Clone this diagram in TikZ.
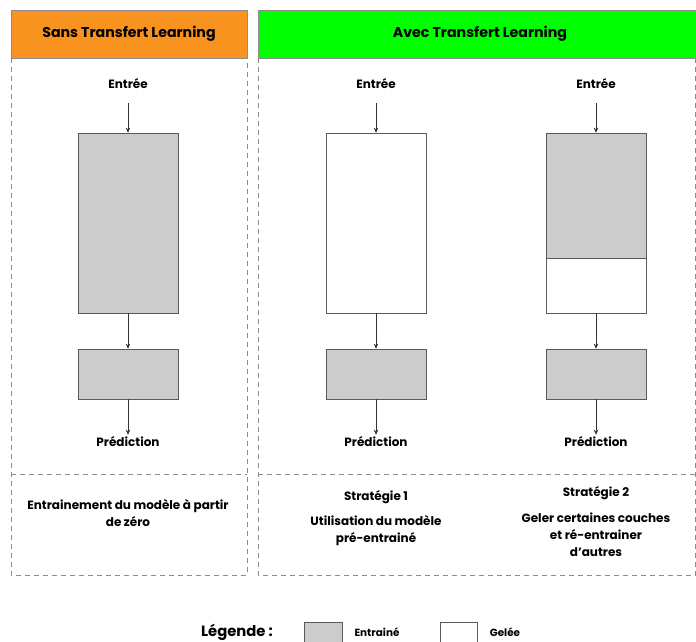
\documentclass[tikz,border=0pt]{standalone}
\usepackage{fontspec}
\setmainfont{Poppins}
\usetikzlibrary{arrows.meta}
\definecolor{headorange}{HTML}{F7931E}
\definecolor{headgreen}{HTML}{00FF00}
\definecolor{trained}{HTML}{CCCCCC}
\definecolor{frameline}{HTML}{8C8C8C}
\definecolor{boxline}{HTML}{5A5A5A}
\begin{document}
\begin{tikzpicture}[x=1pt,y=-1pt,
  txt/.style={font=\bfseries\fontsize{12}{17}\selectfont, align=center, inner sep=2pt},
  headbox/.style={draw=frameline, line width=0.8pt, minimum height=48pt, inner sep=0pt,
                  font=\bfseries\fontsize{14.2}{16}\selectfont},
  panel/.style={draw=frameline, line width=0.6pt, dash pattern=on 5pt off 4pt},
  layer/.style={draw=boxline, line width=0.6pt, minimum width=100pt, inner sep=0pt},
  trainedbox/.style={layer, fill=trained},
  frozenbox/.style={layer, fill=white},
  legtext/.style={font=\bfseries\fontsize{10.4}{12}\selectfont, inner sep=0pt},
  flow/.style={draw=black!80, line width=0.6pt, -{Stealth[length=5pt,width=4.5pt]}},
]
\useasboundingbox (0,0) rectangle (696,641);

% column headers
\node[headbox, fill=headorange, minimum width=236pt] (hsans) at (129,34) {Sans Transfert Learning};
\node[headbox, fill=headgreen, minimum width=438pt] (havec) at (477,34) {\hspace*{6pt}Avec Transfert Learning};

% dashed panels
\draw[panel] (11,58) -- (11,575) -- (247,575) -- (247,58);
\draw[panel] (11,474) -- (247,474);
\draw[panel] (258,58) -- (258,575) -- (695.5,575) -- (695.5,58);
\draw[panel] (258,474) -- (695.5,474);

% column 1: trained from scratch
\node[txt] (in1) at (128,84) {Entrée};
\node[trainedbox, minimum height=180pt] (big1) at (128,223) {};
\node[trainedbox, minimum height=50pt] (small1) at (128,374) {};
\node[txt] (out1) at (128,442) {Prédiction};
\draw[flow, shorten <=12pt] (in1) -- (big1);
\draw[flow] (big1) -- (small1);
\draw[flow] (small1) -- (out1);

% column 2: strategy 1
\node[txt] (in2) at (376,84) {Entrée};
\node[frozenbox, minimum height=180pt] (big2) at (376,223) {};
\node[trainedbox, minimum height=50pt] (small2) at (376,374) {};
\node[txt] (out2) at (376,442) {Prédiction};
\draw[flow, shorten <=12pt] (in2) -- (big2);
\draw[flow] (big2) -- (small2);
\draw[flow] (small2) -- (out2);

% column 3: strategy 2
\node[txt] (in3) at (596,84) {Entrée};
\node[trainedbox, minimum height=125pt] (big3a) at (596,195.5) {};
\node[frozenbox, minimum height=55pt] (big3b) at (596,285.5) {};
\node[trainedbox, minimum height=50pt] (small3) at (596,374) {};
\node[txt] (out3) at (596,442) {Prédiction};
\draw[flow, shorten <=12pt] (in3) -- (big3a);
\draw[flow] (big3b) -- (small3);
\draw[flow] (small3) -- (out3);

% descriptions
\node[txt] (d1) at (128,513.5) {Entrainement du modèle à partir\\de zéro};
\node[txt] (s1) at (376,497) {Stratégie 1};
\node[txt] (d2) at (376,530.5) {Utilisation du modèle\\pré-entrainé};
\node[txt] (s2) at (596,493) {Stratégie 2};
\node[txt] (d3) at (596,534.5) {Geler certaines couches\\et ré-entrainer\\d’autres};

% legend
\node[font=\bfseries\fontsize{14.8}{16}\selectfont, inner sep=0pt] (leg) at (237,632) {Légende :};
\node[trainedbox, minimum width=38pt, minimum height=22pt] (legtr) at (323,633) {};
\node[legtext] (legtrtxt) at (377,632) {Entrainé};
\node[frozenbox, minimum width=37pt, minimum height=22pt] (legfr) at (458.5,633) {};
\node[legtext] (legfrtxt) at (505,632) {Gelée};
\end{tikzpicture}
\end{document}
